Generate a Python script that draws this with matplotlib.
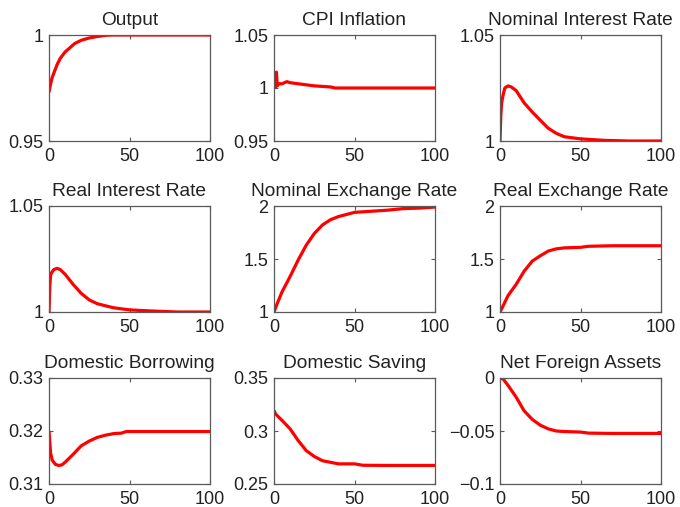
import numpy as np
import matplotlib
matplotlib.use("Agg")
import matplotlib.pyplot as plt

plt.rcParams['font.family'] = ['Liberation Sans', 'DejaVu Sans']

# Impulse responses, sampled at selected periods
t_output = [0, 1, 2, 3, 5, 7, 10, 13, 16, 20, 25, 30, 36, 40, 60, 80, 100]
output = [0.973, 0.977, 0.980, 0.982, 0.986, 0.989, 0.992, 0.994, 0.996, 0.9975, 0.9986, 0.9993, 0.9999, 1.0, 1.0, 1.0, 1.0]

t_cpi = [0, 0.5, 1, 1.5, 2, 3, 5, 8, 10, 15, 20, 25, 30, 35, 38, 40, 60, 80, 100]
cpi = [1.000, 1.006, 1.001, 1.015, 1.002, 1.004, 1.004, 1.006, 1.005, 1.004, 1.003, 1.002, 1.0015, 1.001, 1.0, 1.0, 1.0, 1.0, 1.0]

t_nom_rate = [0, 0.5, 1, 2, 3, 5, 7, 10, 15, 20, 25, 30, 35, 40, 50, 65, 80, 100]
nom_rate = [1.0, 1.012, 1.018, 1.022, 1.025, 1.026, 1.0255, 1.0238, 1.018, 1.0137, 1.0098, 1.006, 1.0036, 1.002, 1.001, 1.0003, 1.0, 1.0]

t_real_rate = [0, 0.5, 1, 2, 3, 5, 7, 10, 15, 20, 25, 30, 40, 50, 63, 80, 100]
real_rate = [1.0, 1.012, 1.0175, 1.019, 1.020, 1.0206, 1.020, 1.0178, 1.013, 1.0088, 1.0057, 1.0039, 1.002, 1.001, 1.0005, 1.0, 1.0]

t_nom_fx = [0, 2, 5, 10, 15, 20, 25, 30, 35, 40, 50, 60, 70, 80, 90, 100]
nom_fx = [1.0, 1.08, 1.19, 1.335, 1.49, 1.63, 1.74, 1.82, 1.87, 1.90, 1.94, 1.95, 1.96, 1.975, 1.98, 1.99]

t_real_fx = [0, 2, 5, 10, 15, 20, 25, 30, 35, 40, 50, 55, 70, 100]
real_fx = [1.0, 1.06, 1.155, 1.26, 1.385, 1.48, 1.53, 1.575, 1.596, 1.605, 1.61, 1.62, 1.625, 1.625]

t_borrow = [0, 1, 2, 4, 6, 8, 10, 15, 20, 25, 30, 35, 40, 45, 48, 60, 80, 100]
borrowing = [0.3200, 0.3158, 0.3145, 0.3137, 0.3135, 0.3136, 0.3141, 0.3156, 0.3172, 0.3181, 0.3188, 0.3192, 0.3195, 0.3196, 0.3199, 0.3199, 0.3199, 0.3199]

t_saving = [0, 1, 5, 10, 15, 20, 25, 30, 35, 40, 50, 55, 70, 100]
saving = [0.3194, 0.316, 0.310, 0.302, 0.291, 0.2815, 0.276, 0.272, 0.2705, 0.269, 0.269, 0.2677, 0.2675, 0.2675]

t_nfa = [0, 2, 5, 10, 15, 20, 25, 30, 35, 40, 50, 55, 70, 100]
nfa = [0.0, -0.001, -0.007, -0.018, -0.031, -0.039, -0.0445, -0.048, -0.050, -0.0505, -0.051, -0.052, -0.0523, -0.0523]

titles = ["Output", "CPI Inflation", "Nominal Interest Rate",
          "Real Interest Rate", "Nominal Exchange Rate", "Real Exchange Rate",
          "Domestic Borrowing", "Domestic Saving", "Net Foreign Assets"]
series = [(t_output, output), (t_cpi, cpi), (t_nom_rate, nom_rate),
          (t_real_rate, real_rate), (t_nom_fx, nom_fx), (t_real_fx, real_fx),
          (t_borrow, borrowing), (t_saving, saving), (t_nfa, nfa)]
yticks = [[0.95, 1], [0.95, 1, 1.05], [1, 1.05],
          [1, 1.05], [1, 1.5, 2], [1, 1.5, 2],
          [0.31, 0.32, 0.33], [0.25, 0.3, 0.35], [-0.1, -0.05, 0]]
ylabels = [["0.95", "1"], ["0.95", "1", "1.05"], ["1", "1.05"],
           ["1", "1.05"], ["1", "1.5", "2"], ["1", "1.5", "2"],
           ["0.31", "0.32", "0.33"], ["0.25", "0.3", "0.35"], ["\u22120.1", "\u22120.05", "0"]]

W, H = 680, 507
fig = plt.figure(figsize=(W / 100, H / 100), dpi=100)
col_left = [49, 274, 500]
col_width = 161
row_top = [35, 206, 378]
row_height = 106

text_color = "#222222"
frame_color = "#5a5a5a"

for i in range(9):
    r, c = divmod(i, 3)
    left = col_left[c]
    top = row_top[r]
    ax = fig.add_axes([left / W, 1 - (top + row_height) / H, col_width / W, row_height / H])
    t, v = series[i]
    ax.plot(t, v, color="#ff0000", linewidth=2.3, solid_capstyle="butt")
    ax.set_xlim(0, 100)
    ax.set_ylim(yticks[i][0], yticks[i][-1])
    ax.set_xticks([0, 50, 100])
    ax.set_xticklabels(["0", "50", "100"])
    ax.set_yticks(yticks[i])
    ax.set_yticklabels(ylabels[i])
    ax.tick_params(direction="in", length=3, width=0.8, top=True, right=True,
                   labelsize=13, colors=frame_color, labelcolor=text_color)
    ax.tick_params(axis="x", pad=5)
    ax.tick_params(axis="y", pad=4)
    for s in ax.spines.values():
        s.set_color(frame_color)
        s.set_linewidth(0.9)
    ax.set_title(titles[i], fontsize=13.8, color=text_color, pad=7)

fig.savefig("out.png", dpi=100, facecolor="white")
